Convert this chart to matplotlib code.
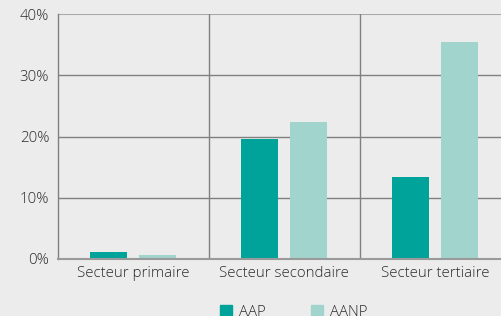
import matplotlib
matplotlib.use("Agg")
import matplotlib.pyplot as plt
import numpy as np
from matplotlib.patches import Patch

categories = ["Secteur primaire", "Secteur secondaire", "Secteur tertiaire"]
series_names = ["AAP", "AANP"]
aap = [1.1, 19.6, 13.4]
aanp = [0.6, 22.3, 35.4]
yticks = [0, 10, 20, 30, 40]
ytick_labels = ["0%", "10%", "20%", "30%", "40%"]

plt.rcParams['font.family'] = ['Open Sans', 'DejaVu Sans']
plt.rcParams['font.weight'] = 'light'
bg = "#ececec"
c_aap = "#00a39a"
c_aanp = "#a0d4cc"
txt = "#2b2b2b"
fs = 10.8

W, H = 501, 316
fig = plt.figure(figsize=(W/100, H/100), dpi=100, facecolor=bg)
left, right, top, bottom = 57.5, 510.5, 14, 259
ax = fig.add_axes([left/W, 1-bottom/H, (right-left)/W, (bottom-top)/H])
ax.set_facecolor(bg)

x = np.arange(len(categories)) + 0.5
w = 0.245
off = 0.162
ax.bar(x - off, aap, width=w, color=c_aap, zorder=3, label=series_names[0])
ax.bar(x + off, aanp, width=w, color=c_aanp, zorder=3, label=series_names[1])

ax.set_xlim(0, 3)
ax.set_ylim(0, 40)
ax.set_yticks(yticks)
ax.set_yticklabels(ytick_labels)
ax.set_xticks(x)
ax.set_xticklabels(categories)
ax.tick_params(axis='both', length=0, colors=txt, labelsize=fs)
ax.tick_params(axis='y', pad=6)
ax.tick_params(axis='x', pad=5)

for yv in yticks[1:-1]:
    ax.axhline(yv, color="#808080", lw=1.0, zorder=1)
ax.axhline(40, color="#a8a8a8", lw=1.5, zorder=1)
for xv in [1, 2]:
    ax.axvline(xv, color="#808080", lw=1.0, zorder=1)

for s in ["top", "right"]:
    ax.spines[s].set_visible(False)
ax.spines["left"].set_color("#808080")
ax.spines["bottom"].set_color("#9a9a9a")
ax.spines["bottom"].set_linewidth(1.5)
ax.spines["left"].set_linewidth(1.0)
ax.spines["bottom"].set_zorder(4)

handles = [Patch(color=c_aap, label=series_names[0]), Patch(color=c_aanp, label=series_names[1])]
fig.legend(handles=handles, loc="upper left", bbox_to_anchor=(206/W, 1-291/H), ncol=2,
           frameon=False, fontsize=fs, handlelength=0.8, handleheight=0.8,
           columnspacing=3.0, handletextpad=0.5, labelcolor=txt)

fig.savefig("out.png", dpi=100, facecolor=bg)
